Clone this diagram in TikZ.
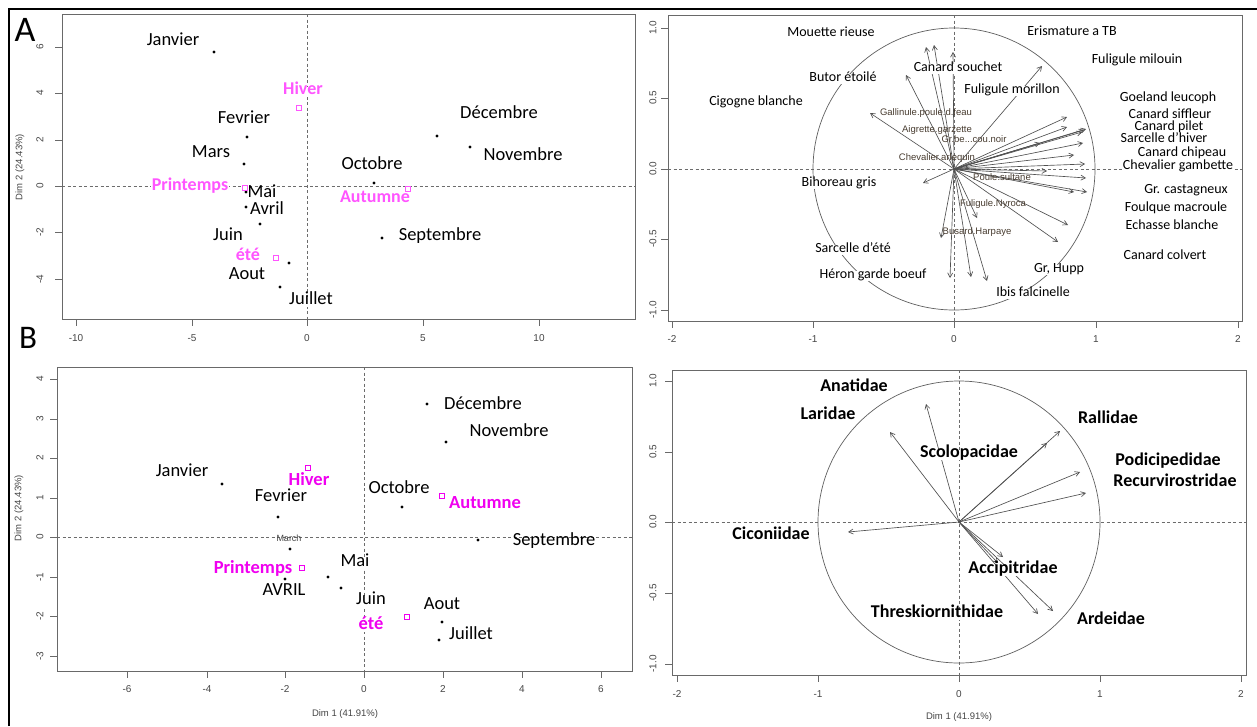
\documentclass[tikz,border=0pt]{standalone}
\usepackage{fontspec}
\setmainfont{Carlito}
\newfontfamily\rfont{Liberation Sans}
\usetikzlibrary{arrows.meta}

\definecolor{magA}{RGB}{255,85,255}
\definecolor{magB}{RGB}{240,0,240}
\definecolor{framec}{RGB}{105,105,105}
\definecolor{tickc}{RGB}{70,70,70}
\definecolor{vecc}{RGB}{80,80,80}
\definecolor{smallc}{RGB}{72,60,48}

\tikzset{
  frame/.style={draw=framec, line width=0.8pt},
  axisdash/.style={draw=gray!85!black, dash pattern=on 3pt off 2.5pt, line width=0.7pt},
  tickmark/.style={draw=framec, line width=0.8pt},
  ticklab/.style={font=\rfont\fontsize{10}{10}\selectfont, text=tickc, inner sep=0pt},
  dimlab/.style={font=\rfont\fontsize{9.5}{9.5}\selectfont, text=tickc, inner sep=0pt},
  lab/.style={fill=white, inner sep=0.5pt, text height=0.68em, text depth=0.18em},
  labnf/.style={inner sep=0.5pt, text height=0.68em, text depth=0.18em},
  monA/.style={lab, font=\fontsize{18.5}{18.5}\selectfont},
  seaA/.style={lab, font=\bfseries\fontsize{18}{18}\selectfont, text=magA},
  seaB/.style={lab, font=\bfseries\fontsize{18.5}{18.5}\selectfont, text=magB},
  spA/.style={lab, font=\fontsize{14}{14}\selectfont},
  spAnf/.style={labnf, font=\fontsize{14}{14}\selectfont},
  small/.style={inner sep=0pt, font=\rfont\fontsize{9.5}{9.5}\selectfont, text=smallc},
  famB/.style={lab, font=\bfseries\fontsize{18}{18}\selectfont},
  dot/.style={circle, fill=black, minimum size=3.2pt, inner sep=0pt},
  sqA/.style={draw=magA, fill=white, minimum size=5pt, inner sep=0pt, line width=0.8pt},
  sqB/.style={draw=magB, fill=white, minimum size=5pt, inner sep=0pt, line width=0.8pt},
  vec/.style={draw=vecc, line width=0.65pt, -{Straight Barb[length=4.5pt,width=5pt]}},
  circ/.style={draw=gray!75!black, line width=0.7pt},
  panel/.style={font=\fontsize{36}{36}\selectfont},
}

\begin{document}
\begin{tikzpicture}[x=1pt, y=-1pt]
\fill[white] (0,0) rectangle (1257,726);
\useasboundingbox (0,0) rectangle (1257,726);

% outer border (top and left)
\draw[line width=2.6pt, black] (9,726) -- (9,9) -- (1257,9);

% panel letters
\node[panel] (lettA) at (25,30) {A};
\node[panel, font=\fontsize{33}{33}\selectfont] (lettB) at (28,338) {B};

%================ A : individuals (months) =================
\draw[axisdash] (307,14) -- (307,319);
\draw[axisdash] (62,186) -- (635,186);
\draw[frame] (62,14) rectangle (635,319);
\foreach \x/\l in {76/-10,192/-5,307/0,423/5,539/10}{
  \draw[tickmark] (\x,319) -- (\x,326);
  \node[ticklab] at (\x,338) {\l};
}
\foreach \y/\l in {47/6,93/4,140/2,186/0,232/-2,279/-4}{
  \draw[tickmark] (62,\y) -- (55,\y);
  \node[ticklab, rotate=90] at (40,\y) {\l};
}
\node[dimlab, rotate=90] (adim2) at (20,167) {Dim 2 (24.43\%)};

\node[monA] (ajan) at (173,43) {Janvier};
\node[monA] (afev) at (244,121) {Fevrier};
\node[monA] (amar) at (211,155) {Mars};
\node[monA] (amai) at (262,195) {Mai};
\node[monA] (aavr) at (267,212) {Avril};
\node[monA] (ajui) at (228,238) {Juin};
\node[monA] (aaou) at (247,277) {Aout};
\node[monA] (ajul) at (311,302) {Juillet};
\node[monA] (adec) at (499,116) {Décembre};
\node[monA] (anov) at (523,158) {Novembre};
\node[monA] (aoct) at (372,167) {Octobre};
\node[monA] (asep) at (440,238) {Septembre};
\node[seaA] (ahiv) at (303,92) {Hiver};
\node[seaA] (apri) at (190,188) {Printemps};
\node[seaA] (aete) at (248,258) {été};
\node[seaA] (aaut) at (375,200) {Autumne};

\foreach \px/\py in {214/52,247/137,244/164,246/192,246/207,260/224,289/263,280/287,437/136,470/147,374/183,382/238}
  \node[dot] at (\px,\py) {};
\node[sqA] (ahivp) at (299,108) {};
\node[sqA] (aprip) at (245,188) {};
\node[sqA] (aetep) at (276,258) {};
\node[sqA] (aautp) at (408,189) {};

%================ A : variables (species) =================
\draw[axisdash] (954,15) -- (954,321);
\draw[axisdash] (668,169) -- (1242,169);
\draw[circ] (954,169) circle[radius=141];
\draw[frame] (668,15) rectangle (1242,321);
\foreach \x/\l in {672/-2,813/-1,954/0,1096/1,1238/2}{
  \draw[tickmark] (\x,321) -- (\x,328);
  \node[ticklab] at (\x,339) {\l};
}
\foreach \y/\l in {28/1.0,98/0.5,169/0.0,239/-0.5,310/-1.0}{
  \draw[tickmark] (668,\y) -- (661,\y);
  \node[ticklab, rotate=90] at (653,\y) {\l};
}
\coordinate (oA) at (954,169);
\foreach \ex/\ey in {926/47,934/45,953/52,906/75,870/113,923/183,941/238,950/278,
  971/277,987/281,977/218,1042/66,1067/117,1067/127,1084/130,1082/132,1086/129,
  1040/143,1083/143,1074/155,1085/164,1047/171,1086/178,1074/192,1087/192,
  1068/225,1058/242}
  \draw[vec] (oA) -- (\ex,\ey);

\node[small] (gall) at (926,113) {Gallinule.poule.d.feau};
\node[small] (aigr) at (937,130) {Aigrette.garzette};
\node[small] (grbe) at (974,139) {Gr.be...cou.noir};
\node[small] (chea) at (937,158) {Chevalier.arlequin};
\node[small] (pous) at (1002,177) {Poule.sultane};
\node[small] (funy) at (993,204) {Fuligule.Nyroca};
\node[small] (buha) at (977,232) {Busard.Harpaye};

\node[spA] (mour) at (831,34) {Mouette rieuse};
\node[spA] (caso) at (958,69) {Canard souchet};
\node[spA] (eris) at (1072,33) {Erismature a TB};
\node[spA] (fumi) at (1137,61) {Fuligule milouin};
\node[spA] (buet) at (843,79) {Butor étoilé};
\node[spA] (fumo) at (1012,91) {Fuligule morillon};
\node[spA] (cibl) at (756,103) {Cigogne blanche};
\node[spAnf] (gole) at (1168,99) {Goeland leucoph};
\node[spAnf] (casi) at (1170,116) {Canard siffleur};
\node[spAnf] (capi) at (1169,128) {Canard pilet};
\node[spAnf] (sahi) at (1164,140) {Sarcelle d'hiver};
\node[spAnf] (cach) at (1182,154) {Canard chipeau};
\node[spA] (chga) at (1178,167) {Chevalier gambette};
\node[spA] (grca) at (1186,191) {Gr. castagneux};
\node[spA] (foma) at (1176,209) {Foulque macroule};
\node[spA] (ecbl) at (1172,227) {Echasse blanche};
\node[spA] (caco) at (1165,257) {Canard colvert};
\node[spA] (grhu) at (1059,270) {Gr, Hupp};
\node[spA] (ibfa) at (1033,294) {Ibis falcinelle};
\node[spA] (bigr) at (839,184) {Bihoreau gris};
\node[spA] (saet) at (853,250) {Sarcelle d'été};
\node[spA] (hega) at (873,276) {Héron garde boeuf};

%================ B : individuals (months) =================
\draw[axisdash] (364,367) -- (364,671);
\draw[axisdash] (57,537) -- (632,537);
\draw[frame] (57,367) rectangle (632,671);
\foreach \x/\l in {127/-6,207/-4,285/-2,364/0,443/2,522/4,601/6}{
  \draw[tickmark] (\x,671) -- (\x,678);
  \node[ticklab] at (\x,689) {\l};
}
\foreach \y/\l in {379/4,419/3,458/2,498/1,537/0,577/-1,616/-2,656/-3}{
  \draw[tickmark] (57,\y) -- (50,\y);
  \node[ticklab, rotate=90] at (40,\y) {\l};
}
\node[dimlab] (bdim1) at (345,714) {Dim 1 (41.91\%)};
\node[dimlab, rotate=90] (bdim2) at (19,508) {Dim 2 (24.43\%)};

\node[monA] (bjan) at (182,474) {Janvier};
\node[monA] (bfev) at (281,499) {Fevrier};
\node[small, text=tickc, font=\rfont\fontsize{9}{9}\selectfont] (bmar) at (289,538) {March};
\node[monA] (bavr) at (284,593) {AVRIL};
\node[monA] (bmai) at (355,564) {Mai};
\node[monA] (bjui) at (371,602) {Juin};
\node[monA] (baou) at (442,607) {Aout};
\node[monA] (bjul) at (471,637) {Juillet};
\node[monA] (bdec) at (483,407) {Décembre};
\node[monA] (bnov) at (509,434) {Novembre};
\node[monA] (boct) at (399,491) {Octobre};
\node[monA] (bsep) at (554,543) {Septembre};
\node[seaB] (bhiv) at (309,483) {Hiver};
\node[seaB] (bpri) at (253,571) {Printemps};
\node[seaB] (bete) at (371,627) {été};
\node[seaB] (baut) at (485,506) {Autumne};

\foreach \px/\py in {222/484,278/517,290/549,285/579,328/577,341/588,442/622,439/640,427/404,446/442,402/507,478/540}
  \node[dot] at (\px,\py) {};
\node[sqB] (bhivp) at (308,468) {};
\node[sqB] (bprip) at (302,568) {};
\node[sqB] (betep) at (407,617) {};
\node[sqB] (bautp) at (442,496) {};

%================ B : variables (families) =================
\draw[axisdash] (959,370) -- (959,675);
\draw[axisdash] (672,522) -- (1246,522);
\draw[circ] (959,522) circle[radius=141];
\draw[frame] (672,370) rectangle (1246,675);
\foreach \x/\l in {677/-2,818/-1,959/0,1100/1,1241/2}{
  \draw[tickmark] (\x,675) -- (\x,682);
  \node[ticklab] at (\x,694) {\l};
}
\foreach \y/\l in {381/1.0,452/0.5,522/0.0,593/-0.5,664/-1.0}{
  \draw[tickmark] (672,\y) -- (665,\y);
  \node[ticklab, rotate=90] at (653,\y) {\l};
}
\node[dimlab] (bdim1r) at (959,717) {Dim 1 (41.91\%)};

\coordinate (oB) at (959,522);
\foreach \ex/\ey in {926/404,890/432,848/532,1060/431,1047/443,1080/472,1086/493,
  1003/557,998/563,1038/614,1053/611}
  \draw[vec] (oB) -- (\ex,\ey);

\node[famB] (anat) at (854,389) {Anatidae};
\node[famB] (lari) at (828,417) {Laridae};
\node[famB] (scol) at (969,455) {Scolopacidae};
\node[famB] (rall) at (1108,421) {Rallidae};
\node[famB] (podi) at (1168,463) {Podicipedidae};
\node[famB] (recu) at (1175,484) {Recurvirostridae};
\node[famB] (cico) at (771,537) {Ciconiidae};
\node[famB] (acci) at (1013,571) {Accipitridae};
\node[famB] (thre) at (937,615) {Threskiornithidae};
\node[famB] (arde) at (1111,622) {Ardeidae};

\end{tikzpicture}
\end{document}
